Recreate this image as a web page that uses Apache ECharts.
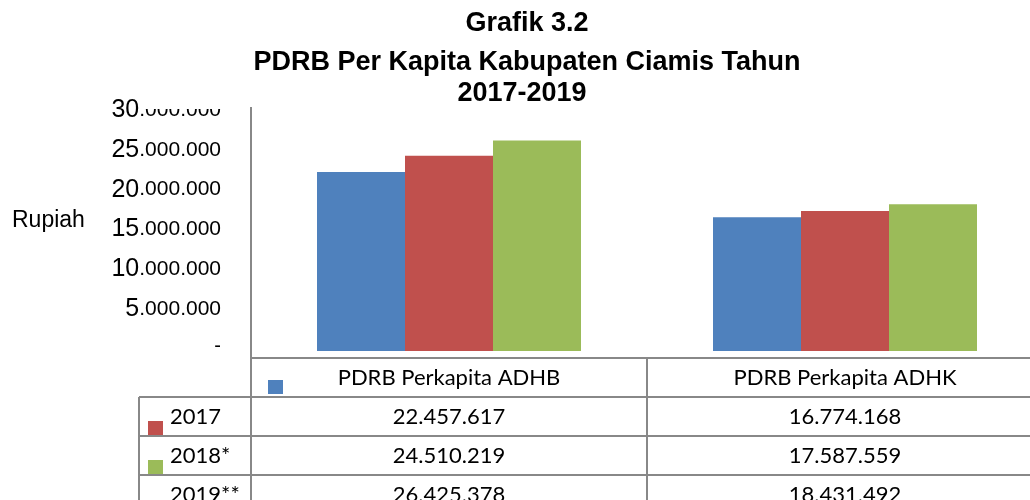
<!DOCTYPE html>
<html>
<head>
<meta charset="utf-8">
<script src="https://cdn.jsdelivr.net/npm/echarts@6/dist/echarts.min.js"></script>
<style>
	html, body { margin: 0; padding: 0; background: #fff; overflow: hidden; }
	/* the picture is a crop: the plot's right edge lies past the window */
	#chart { width: 1043px; height: 500px; }
</style>
</head>
<body>
<div id="chart"></div>
<script>
// data
var categories = ['PDRB Perkapita ADHB', 'PDRB Perkapita ADHK'];
var years = ['2017', '2018*', '2019**'];
var data2017 = [22457617, 16774168];
var data2018 = [24510219, 17587559];
var data2019 = [26425378, 18431492];
var colors = ['#4F81BD', '#C0504D', '#9BBB59'];
var titleLines = ['Grafik 3.2', 'PDRB Per Kapita Kabupaten Ciamis Tahun', '2017-2019'];

var lineColor = '#888888';
var cellFont = '22px Lato';

function fmt(v) {
	return String(v).replace(/\B(?=(\d{3})+(?!\d))/g, '.');
}

var myChart = echarts.init(document.getElementById('chart'));

var option = {
	backgroundColor: '#fff',
	animation: false,
	grid: {
		left: 251,
		right: 0,
		top: 112,
		bottom: 149
	},
	xAxis: {
		type: 'category',
		data: categories,
		axisLine: { show: false },
		axisTick: { show: false },
		axisLabel: { show: false },
		splitLine: { show: false }
	},
	yAxis: {
		type: 'value',
		min: 0,
		max: 30000000,
		interval: 5000000,
		axisLine: { show: false },
		axisTick: { show: false },
		splitLine: { show: false },
		axisLabel: {
			margin: 30,
			formatter: function (v) {
				if (v === 0) return '{z|-}';
				return '{a|' + (v / 1000000) + '}{b|.000.000}';
			},
			rich: {
				a: { fontFamily: 'Liberation Sans', fontSize: 25, color: '#000', verticalAlign: 'bottom', padding: [0, 0, 4, 0] },
				b: { fontFamily: 'Liberation Sans', fontSize: 21, color: '#000', verticalAlign: 'bottom', padding: [0, 0, 6, 0] },
				z: { fontFamily: 'Liberation Sans', fontSize: 20, color: '#000', padding: [0, 0, 10, 0] }
			}
		}
	},
	series: [
		{ name: years[0], type: 'bar', data: data2017, barWidth: 88, barGap: '0%', itemStyle: { color: colors[0] } },
		{ name: years[1], type: 'bar', data: data2018, barWidth: 88, barGap: '0%', itemStyle: { color: colors[1] } },
		{ name: years[2], type: 'bar', data: data2019, barWidth: 88, barGap: '0%', itemStyle: { color: colors[2] } }
	]
};
myChart.setOption(option);

// table + titles, positioned from the chart's own scales
var c0 = myChart.convertToPixel({ xAxisIndex: 0 }, categories[0]);
var c1 = myChart.convertToPixel({ xAxisIndex: 0 }, categories[1]);
var band = c1 - c0;
var zeroY = myChart.convertToPixel({ yAxisIndex: 0 }, 0);
var topY = myChart.convertToPixel({ yAxisIndex: 0 }, 30000000);
var axisX = Math.round(c0 - band / 2);
var tableTop = Math.round(zeroY + 7);
var rowH = 39;
var labelLeft = axisX - 112;
var allRows = [data2017, data2018, data2019];

var g = [];
function hline(x1, x2, y) {
	g.push({ type: 'line', shape: { x1: x1, y1: y, x2: x2, y2: y }, style: { stroke: lineColor, lineWidth: 2 }, z: 10 });
}
function vline(x, y1, y2) {
	g.push({ type: 'line', shape: { x1: x, y1: y1, x2: x, y2: y2 }, style: { stroke: lineColor, lineWidth: 2 }, z: 10 });
}
function text(str, x, y, font, align) {
	g.push({ type: 'text', x: x, y: y, z: 20, style: { text: str, font: font, fill: '#000', align: align || 'center', verticalAlign: 'middle' } });
}

// the white band that cuts the top of the first tick label's small part
g.push({ type: 'rect', shape: { x: 139, y: 90, width: 95, height: topY - 3 - 90 }, style: { fill: '#fff' }, z: 5 });

// titles
text(titleLines[0], 527, 24, 'bold 27px "Liberation Sans"');
text(titleLines[1], 527, 63, 'bold 27px "Liberation Sans"');
text(titleLines[2], 522, 94, 'bold 27px "Liberation Sans"');

// axis title
text('Rupiah', 12, 221, '23px "Liberation Sans"', 'left');

// table grid
vline(axisX, topY - 5, 500);
vline(Math.round(c1 - band / 2), tableTop, 500);
vline(Math.round(c1 + band / 2) - 1, tableTop, 500);
vline(labelLeft, tableTop + rowH, 500);
hline(axisX, 1043, tableTop);
for (var r = 1; r <= years.length; r++) {
	hline(labelLeft, 1043, tableTop + rowH * r);
}

// header
text(categories[0], c0, tableTop + rowH / 2, cellFont);
text(categories[1], c1, tableTop + rowH / 2, cellFont);

// rows
for (var i = 0; i < years.length; i++) {
	var cy = tableTop + rowH * (i + 1) + rowH / 2;
	text(years[i], labelLeft + 31, cy, cellFont, 'left');
	text(fmt(allRows[i][0]), c0, cy, cellFont);
	text(fmt(allRows[i][1]), c1, cy, cellFont);
}

// legend keys (shifted one row up, as in the picture)
var keyPos = [[axisX + 17, tableTop + 22], [labelLeft + 9, tableTop + rowH + 24], [labelLeft + 9, tableTop + rowH * 2 + 24]];
for (var k = 0; k < colors.length; k++) {
	g.push({ type: 'rect', shape: { x: keyPos[k][0], y: keyPos[k][1], width: 15, height: 14 }, style: { fill: colors[k] }, z: 20 });
}

myChart.setOption({ graphic: g });
</script>
</body>
</html>
